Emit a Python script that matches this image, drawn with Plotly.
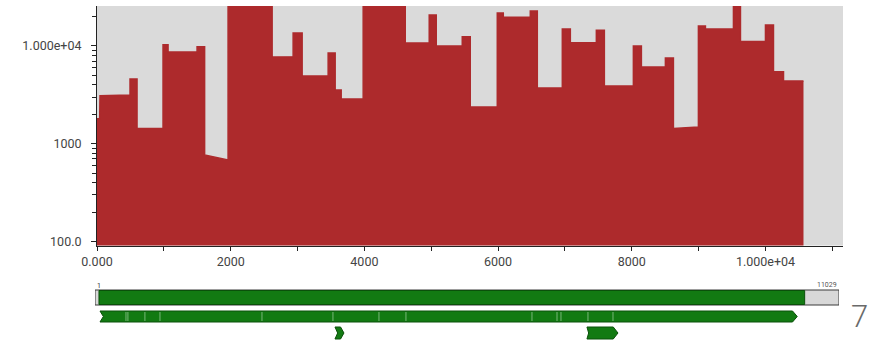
import plotly.graph_objects as go

# Read-depth profile along the genome (position, depth) vertices
cov_x = [0, 40, 45, 494, 494, 599, 599, 988, 988, 1063, 1063, 1497, 1497, 1610,
         1610, 1961, 1961, 2620, 2620, 2934, 2934, 3069, 3069, 3458, 3458, 3563,
         3563, 3653, 3653, 3982, 3982, 4611, 4611, 4970, 4970, 5075, 5075, 5464,
         5464, 5584, 5584, 5988, 5988, 6078, 6078, 6482, 6482, 6587, 6587, 6961,
         6961, 7081, 7081, 7470, 7470, 7590, 7590, 8024, 8024, 8144, 8144, 8503,
         8503, 8623, 8623, 8997, 8997, 9102, 9102, 9521, 9521, 9626, 9626, 10000,
         10000, 10120, 10120, 10270, 10270, 10569]
cov_y = [1800, 1800, 3100, 3150, 4600, 4600, 1430, 1430, 10300, 10300, 8700, 8700,
         9800, 9800, 767, 683, 30000, 30000, 7700, 7750, 13600, 13600, 4930, 4930,
         8470, 8470, 3550, 3550, 2870, 2870, 30000, 30000, 10750, 10750, 20700,
         20700, 10000, 10000, 12400, 12400, 2380, 2380, 21800, 21800, 19700, 19700,
         22800, 22800, 3710, 3710, 14900, 14900, 10800, 10800, 14500, 14500, 3900,
         3900, 10000, 10000, 6100, 6100, 7530, 7530, 1430, 1480, 16000, 16000,
         14900, 14900, 26000, 26000, 11100, 11100, 16400, 16400, 5450, 5450, 4390,
         4390]

x_tick_vals = [0, 2000, 4000, 6000, 8000, 10000]
x_tick_text = ["0.000", "2000", "4000", "6000", "8000", "1.000e+04"]
y_tick_vals = [100, 1000, 10000]
y_tick_text = ["100.0", "1000", "1.000e+04"]

# Genome annotation track
genome_length = 11029
covered_start, covered_end = 60, 10520
cds_start, cds_end = 75, 10410
cds_boundaries = [460, 489, 741, 964, 2476, 3528, 4210, 4610, 6478, 6849, 6908,
                  7308, 7679]
small_orfs = [(3558, 3691), (7293, 7753)]
panel_number = "7"

W, H = 871, 347
RED = "#ad2a2c"
GREEN = "#127a12"
GREEN_DARK = "#0a500a"
AXIS = "#222222"
TXT = "#444444"

fig = go.Figure()
fig.add_trace(go.Scatter(
    x=cov_x, y=cov_y, mode="lines", fill="tozeroy",
    line=dict(color=RED, width=1.5), fillcolor=RED,
    hoverinfo="skip", showlegend=False,
))
# invisible trace to instantiate the track axes
fig.add_trace(go.Scatter(x=[1, genome_length], y=[0, 0], xaxis="x2", yaxis="y2",
                         mode="markers", marker=dict(opacity=0), showlegend=False,
                         hoverinfo="skip"))


def px_x(p):
    return p / W


def px_y(p):
    return (H - p) / H


font = dict(family="Roboto, Arial, sans-serif", size=12.5, color=TXT)

fig.update_layout(
    width=W, height=H,
    margin=dict(l=0, r=0, t=0, b=0, pad=0, autoexpand=False),
    paper_bgcolor="white", plot_bgcolor="rgba(0,0,0,0)",
    font=font, showlegend=False,
    xaxis=dict(
        domain=[px_x(97), px_x(843)], range=[0, 11160],
        tickvals=x_tick_vals, ticktext=x_tick_text,
        ticks="outside", ticklen=4, tickcolor=AXIS, tickwidth=1,
        minor=dict(dtick=1000, tick0=0, ticks="outside", ticklen=4,
                   tickcolor=AXIS, tickwidth=1),
        showline=True, linecolor=AXIS, linewidth=1,
        showgrid=False, zeroline=False, anchor="y", automargin=False,
    ),
    yaxis=dict(
        domain=[px_y(245.5), px_y(6)], type="log", range=[1.959, 4.409],
        tickvals=y_tick_vals, ticktext=y_tick_text, ticklabelstandoff=7,
        ticks="outside", ticklen=5, tickcolor=AXIS, tickwidth=1,
        minor=dict(tickvals=[200, 300, 400, 500, 600, 700, 800, 900,
                             2000, 3000, 4000, 5000, 6000, 7000, 8000, 9000, 20000],
                   ticks="outside", ticklen=4, tickcolor=AXIS, tickwidth=1),
        showline=True, linecolor=AXIS, linewidth=1,
        showgrid=False, zeroline=False, anchor="x", automargin=False,
    ),
    xaxis2=dict(domain=[px_x(95), px_x(839)], range=[1, genome_length],
                visible=False, anchor="y2", automargin=False),
    yaxis2=dict(domain=[px_y(345), px_y(280)], range=[65, 0],
                visible=False, anchor="x2", automargin=False),
)

shapes = []
# grey backdrop of the depth panel
shapes.append(dict(type="rect", xref="x domain", yref="y domain", x0=0, x1=1,
                   y0=0, y1=1, fillcolor="#dadada", line=dict(width=0),
                   layer="below"))
# whole genome bar with the covered part
shapes.append(dict(type="rect", xref="x2", yref="y2", x0=1, x1=genome_length,
                   y0=10, y1=25, fillcolor="#d8d8d8",
                   line=dict(color="#3a3a3a", width=1), layer="above"))
shapes.append(dict(type="rect", xref="x2", yref="y2", x0=covered_start,
                   x1=covered_end, y0=10.5, y1=24.5, fillcolor=GREEN,
                   line=dict(color=GREEN_DARK, width=1), layer="above"))


def arrow_path(x0, x1, top, bot, notch, head):
    mid = (top + bot) / 2
    return (f"M{x0},{top} L{x1 - head},{top} L{x1},{mid} L{x1 - head},{bot} "
            f"L{x0},{bot} L{x0 + notch},{mid} Z")


shapes.append(dict(type="path", xref="x2", yref="y2",
                   path=arrow_path(cds_start, cds_end, 31, 42, 50, 70),
                   fillcolor=GREEN, line=dict(color=GREEN_DARK, width=1),
                   layer="above"))
for b in cds_boundaries:
    shapes.append(dict(type="line", xref="x2", yref="y2", x0=b, x1=b,
                       y0=32, y1=41, line=dict(color="rgba(190,225,190,0.6)",
                                               width=1), layer="above"))
for s, e in small_orfs:
    notch = 40 if e - s < 200 else 25
    head = 50 if e - s < 200 else 70
    shapes.append(dict(type="path", xref="x2", yref="y2",
                       path=arrow_path(s, e, 47, 59, notch, head),
                       fillcolor=GREEN, line=dict(color=GREEN_DARK, width=1),
                       layer="above"))
fig.update_layout(shapes=shapes)

fig.add_annotation(x=1, y=6, xref="x2", yref="y2", text="1", showarrow=False,
                   xanchor="left", yanchor="middle",
                   font=dict(size=7, color="#333333", family="Roboto, sans-serif"))
fig.add_annotation(x=genome_length, y=5, xref="x2", yref="y2", text=str(genome_length),
                   showarrow=False, xanchor="right", yanchor="middle",
                   font=dict(size=7, color="#555555", family="Roboto, sans-serif"))
fig.add_annotation(x=px_x(859), y=px_y(316), xref="paper", yref="paper",
                   text=panel_number, showarrow=False, xanchor="center",
                   yanchor="middle",
                   font=dict(size=31, color="#6a6a6a", family="Roboto, sans-serif",
                             weight=300))

fig.write_html("out.html")
